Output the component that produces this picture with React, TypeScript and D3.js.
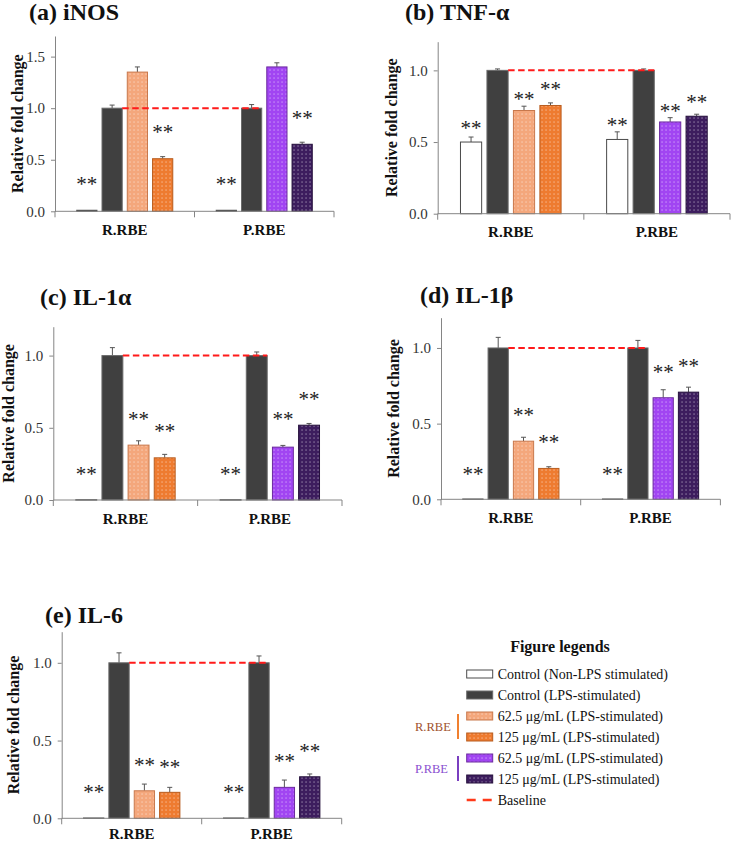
import React, { useEffect, useRef } from 'react'
import * as d3 from 'd3'

const WIDTH = 732
const HEIGHT = 842
const FONT = "'Times New Roman', 'Liberation Serif', serif"

const groups = ['R.RBE', 'P.RBE']
const treatments = ['nonLps', 'lps', 'low', 'high']

const panelTitles = ['(a) iNOS', '(b) TNF-α', '(c) IL-1α', '(d) IL-1β', '(e) IL-6']
const yMaxes = [1.7, 1.2, 1.2, 1.2, 1.2]
const yTicks = [[0, 0.5, 1.0, 1.5], [0, 0.5, 1.0], [0, 0.5, 1.0], [0, 0.5, 1.0], [0, 0.5, 1.0]]

// [R.RBE, P.RBE] x [non-LPS, LPS, 62.5, 125]
const inosMeans = [[0.01, 1.0, 1.35, 0.51], [0.01, 1.0, 1.40, 0.65]]
const inosErrs = [[0, 0.03, 0.05, 0.02], [0, 0.035, 0.04, 0.02]]
const inosStars = [[0.29, null, null, 0.80], [0.29, null, null, 0.93]]

const tnfMeans = [[0.50, 1.0, 0.72, 0.755], [0.518, 1.0, 0.64, 0.68]]
const tnfErrs = [[0.035, 0.01, 0.03, 0.018], [0.053, 0.01, 0.03, 0.014]]
const tnfStars = [[0.62, null, 0.82, 0.89], [0.64, null, 0.74, 0.80]]

const il1aMeans = [[0.002, 1.0, 0.38, 0.292], [0.002, 1.0, 0.366, 0.518]]
const il1aErrs = [[0, 0.055, 0.03, 0.024], [0, 0.025, 0.012, 0.012]]
const il1aStars = [[0.20, null, 0.58, 0.50], [0.20, null, 0.58, 0.72]]

const il1bMeans = [[0.002, 1.0, 0.384, 0.204], [0.002, 1.0, 0.671, 0.708]]
const il1bErrs = [[0, 0.07, 0.026, 0.011], [0, 0.05, 0.053, 0.033]]
const il1bStars = [[0.19, null, 0.58, 0.40], [0.19, null, 0.86, 0.90]]

const il6Means = [[0.002, 1.0, 0.177, 0.167], [0.002, 1.0, 0.199, 0.267]]
const il6Errs = [[0, 0.064, 0.043, 0.032], [0, 0.044, 0.047, 0.018]]
const il6Stars = [[0.19, null, 0.36, 0.35], [0.19, null, 0.39, 0.45]]

const allMeans = [inosMeans, tnfMeans, il1aMeans, il1bMeans, il6Means]
const allErrs = [inosErrs, tnfErrs, il1aErrs, il1bErrs, il6Errs]
const allStars = [inosStars, tnfStars, il1aStars, il1bStars, il6Stars]

const baselineValue = 1.0

const legendLabels = [
  'Control (Non-LPS stimulated)',
  'Control (LPS-stimulated)',
  '62.5 μg/mL (LPS-stimulated)',
  '125 μg/mL (LPS-stimulated)',
  '62.5 μg/mL (LPS-stimulated)',
  '125 μg/mL (LPS-stimulated)',
  'Baseline',
]
const legendKeys = ['nonLps', 'lps', 'R-low', 'R-high', 'P-low', 'P-high', 'baseline']

// panel frames (plot area in page px)
const layouts = [
  { left: 55, right: 334, top: 36, bottom: 211.3, titleX: 29, titleY: 20, labelX: 17 },
  { left: 437.7, right: 730, top: 41.7, bottom: 213.7, titleX: 405, titleY: 20, labelX: 391.5 },
  { left: 53.3, right: 342, top: 326.7, bottom: 500, titleX: 40, titleY: 305, labelX: 8.5 },
  { left: 441, right: 720.4, top: 317.7, bottom: 499.3, titleX: 420, titleY: 303, labelX: 393.3 },
  { left: 61.7, right: 341.7, top: 631.7, bottom: 818.3, titleX: 45, titleY: 623, labelX: 13.3 },
]

const barStyle = {
  nonLps: { fill: '#ffffff', stroke: '#4a4a4a' },
  lps: { fill: '#404040', stroke: '#6a6a6a' },
  'R-low': { fill: 'url(#dots-R-low)', stroke: '#c8784c', base: '#f4a77c' },
  'R-high': { fill: 'url(#dots-R-high)', stroke: '#b85c1e', base: '#ee7b30' },
  'P-low': { fill: 'url(#dots-P-low)', stroke: '#6b2a9e', base: '#a145f2' },
  'P-high': { fill: 'url(#dots-P-high)', stroke: '#26113c', base: '#3d1d5e' },
}

function styleKey(group, t) {
  return t === 'nonLps' || t === 'lps' ? t : `${group[0]}-${t}`
}

function Panel({ idx }) {
  const L = layouts[idx]
  const means = allMeans[idx]
  const errs = allErrs[idx]
  const stars = allStars[idx]
  const axisRef = useRef(null)

  const x0 = d3.scaleBand().domain(groups).range([L.left, L.right])
  const x1 = d3.scaleBand().domain(treatments).range([0, x0.bandwidth()])
    .paddingInner(0.2).paddingOuter(0.86)
  const y = d3.scaleLinear().domain([0, yMaxes[idx]]).range([L.bottom, L.top])

  useEffect(() => {
    const g = d3.select(axisRef.current)
    g.selectAll('*').remove()
    g.call(d3.axisLeft(y).tickValues(yTicks[idx]).tickFormat(d3.format('.1f'))
      .tickSize(4).tickSizeOuter(0).tickPadding(6))
    g.attr('font-family', null)
    g.select('.domain').attr('stroke', '#858585')
    g.selectAll('.tick line').attr('stroke', '#858585')
    g.selectAll('.tick text').attr('fill', '#333').style('font-family', FONT).style('font-size', '15px')
  }, [idx])

  const ctrlEnd = g => x0(g) + x1('lps') + x1.bandwidth()
  const boundaries = [L.left, ...groups.map(g => x0(g) + x0.bandwidth())]
  const catLabelY = Math.min(L.bottom + 23.5, HEIGHT - 3)

  return (
    <g>
      <text x={L.titleX} y={L.titleY} fontFamily={FONT} fontWeight="bold" fontSize={24} fill="#111">
        {panelTitles[idx]}
      </text>
      <text transform={`translate(${L.labelX},${(L.top + L.bottom) / 2}) rotate(-90)`}
        textAnchor="middle" dominantBaseline="central" fontFamily={FONT} fontWeight="bold" fontSize={16} fill="#111">
        Relative fold change
      </text>
      {groups.map((grp, gi) => (
        <g key={grp}>
          {treatments.map((t, ti) => {
            const v = means[gi][ti]
            const e = errs[gi][ti]
            const s = barStyle[styleKey(grp, t)]
            const bx = x0(grp) + x1(t)
            const cx = bx + x1.bandwidth() / 2
            return (
              <g key={t}>
                {e > 0 && (
                  <g stroke="#555" strokeWidth={1}>
                    <line x1={cx} x2={cx} y1={y(v)} y2={y(v + e)} />
                    <line x1={cx - 2.5} x2={cx + 2.5} y1={y(v + e)} y2={y(v + e)} />
                  </g>
                )}
                <rect x={bx} y={y(v)} width={x1.bandwidth()} height={Math.max(0.4, y(0) - y(v))}
                  fill={s.fill} stroke={s.stroke} strokeWidth={1} />
                {stars[gi][ti] != null && (
                  <text x={cx} y={y(stars[gi][ti]) + 10} textAnchor="middle" fontFamily={FONT} fontSize={21} fill="#222">
                    **
                  </text>
                )}
              </g>
            )
          })}
          <text x={x0(grp) + x0.bandwidth() / 2} y={catLabelY} textAnchor="middle"
            fontFamily={FONT} fontWeight="bold" fontSize={15} fill="#111">
            {grp}
          </text>
        </g>
      ))}
      <line x1={ctrlEnd(groups[0])} x2={ctrlEnd(groups[1])} y1={y(baselineValue)} y2={y(baselineValue)}
        stroke="#ff1a1a" strokeWidth={2} strokeDasharray="6.5,3.5" />
      <line x1={L.left} x2={L.right} y1={L.bottom} y2={L.bottom} stroke="#858585" />
      {boundaries.map((bx, i) => (
        <line key={i} x1={bx} x2={bx} y1={L.bottom} y2={L.bottom + 6} stroke="#858585" />
      ))}
      <g ref={axisRef} transform={`translate(${L.left},0)`} />
    </g>
  )
}

function Legend() {
  const rowY = d3.scalePoint().domain(legendKeys).range([674, 800])
  const swX = 466.7
  const swW = 26
  const swH = 8
  return (
    <g fontFamily={FONT}>
      <text x={560} y={652} textAnchor="middle" fontWeight="bold" fontSize={16} fill="#111">Figure legends</text>
      {legendKeys.map((k, i) => {
        const cy = rowY(k)
        const s = barStyle[k]
        return (
          <g key={k}>
            {k === 'baseline' ? (
              <line x1={swX} x2={swX + swW} y1={cy} y2={cy} stroke="#ff3a1a" strokeWidth={2.5} strokeDasharray="9,7" />
            ) : (
              <rect x={swX} y={cy - swH / 2} width={swW} height={swH} fill={s.fill} stroke={s.stroke} strokeWidth={1} />
            )}
            <text x={497.7} y={cy} dominantBaseline="central" fontSize={14} fill="#111">{legendLabels[i]}</text>
          </g>
        )
      })}
      <text x={415} y={(rowY('R-low') + rowY('R-high')) / 2} dominantBaseline="central" fontSize={12.5} fill="#a0522d">R.RBE</text>
      <line x1={458} x2={458} y1={rowY('R-low') - 2} y2={rowY('R-high') + 2} stroke="#f08030" strokeWidth={2} />
      <text x={415} y={(rowY('P-low') + rowY('P-high')) / 2} dominantBaseline="central" fontSize={12.5} fill="#8a4fd0">P.RBE</text>
      <line x1={458} x2={458} y1={rowY('P-low') - 2} y2={rowY('P-high') + 2} stroke="#7a3fc0" strokeWidth={2} />
    </g>
  )
}

export default function App() {
  const patternKeys = ['R-low', 'R-high', 'P-low', 'P-high']
  return (
    <svg width={WIDTH} height={HEIGHT} style={{ position: 'absolute', left: 0, top: 0, background: '#fff' }}>
      <defs>
        {patternKeys.map(k => (
          <pattern key={k} id={`dots-${k}`} width={4} height={4} patternUnits="userSpaceOnUse">
            <rect width={4} height={4} fill={barStyle[k].base} />
            <rect x={1.5} y={1.5} width={1.1} height={1.1} fill="#fff" opacity={0.6} />
          </pattern>
        ))}
      </defs>
      <rect width={WIDTH} height={HEIGHT} fill="#fff" />
      {layouts.map((_, i) => <Panel key={i} idx={i} />)}
      <Legend />
    </svg>
  )
}
